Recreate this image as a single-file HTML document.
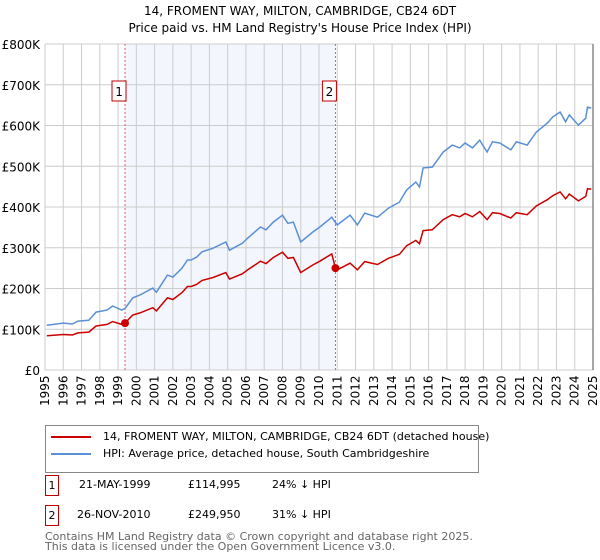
<!DOCTYPE html>
<html><head><meta charset="utf-8"><style>
body{margin:0;background:#fff;font-family:"DejaVu Sans","Liberation Sans",sans-serif;}
#wrap{position:relative;width:600px;height:560px;overflow:hidden}
.t{font-size:12px;fill:#000}
</style></head><body>
<div id="wrap">
<svg id="svg" width="600" height="560" xmlns="http://www.w3.org/2000/svg" style="font-family:'DejaVu Sans','Liberation Sans',sans-serif"></svg>
</div>
<script>
const years=[1995.1,1996.0,1996.5,1996.8,1997.4,1997.8,1998.4,1998.7,1999.2,1999.38,1999.8,2000.2,2000.9,2001.1,2001.7,2002.0,2002.5,2002.8,2003.0,2003.3,2003.6,2004.2,2004.9,2005.1,2005.8,2006.1,2006.8,2007.1,2007.5,2008.0,2008.3,2008.6,2009.0,2009.67,2010.05,2010.7,2010.9,2011.0,2011.7,2012.1,2012.5,2013.2,2013.8,2014.4,2014.8,2015.3,2015.5,2015.7,2016.2,2016.8,2017.3,2017.7,2018.0,2018.4,2018.8,2019.2,2019.5,2019.9,2020.5,2020.8,2021.4,2021.9,2022.5,2022.8,2023.2,2023.5,2023.7,2024.2,2024.6,2024.7,2024.9];
const hpiValues=[110,115,113,120,122,142,147,157,147,151,177,184,201,191,233,228,250,270,270,277,290,299,314,294,311,324,351,344,363,380,360,363,314,339,351,375,362,356,380,356,385,375,397,412,442,461,449,496,498,535,552,545,557,545,564,535,560,557,540,560,552,584,606,621,633,609,626,601,618,645,643];
const priceValues=[84,87,86,91,93,108,112,119,112,115,135,140,153,145,177,173,190,205,205,210,220,227,239,223,236,246,267,261,276,289,274,276,239,258,267,285,250,246,262,246,266,259,274,284,305,318,310,342,344,369,381,376,384,376,389,369,386,384,373,386,381,403,418,428,437,420,432,415,426,445,444];
const saleYears=[1999.38,2010.9];
const salePrices=[115,250];
const saleLabels=["1","2"];
const yTicks=[0,100,200,300,400,500,600,700,800];
const yTickLabels=["£0","£100K","£200K","£300K","£400K","£500K","£600K","£700K","£800K"];
const xTicks=[1995,1996,1997,1998,1999,2000,2001,2002,2003,2004,2005,2006,2007,2008,2009,2010,2011,2012,2013,2014,2015,2016,2017,2018,2019,2020,2021,2022,2023,2024,2025];

const X0=45,X1=593,Y0=370,Y1=44;
const xs=y=>X0+(y-1995)/30*(X1-X0);
const ys=v=>Y0-v/800*(Y0-Y1);
const svg=document.getElementById('svg');
const NS='http://www.w3.org/2000/svg';
function mk(tag,attrs,parent){const e=document.createElementNS(NS,tag);for(const k in attrs)e.setAttribute(k,attrs[k]);(parent||svg).appendChild(e);return e;}

let t=mk('text',{x:300,y:15,'text-anchor':'middle',class:'t'});t.textContent='14, FROMENT WAY, MILTON, CAMBRIDGE, CB24 6DT';


t=mk('text',{x:300,y:32,'text-anchor':'middle',class:'t'});t.textContent="Price paid vs. HM Land Registry's House Price Index (HPI)";



let sh=mk('rect',{x:xs(saleYears[0]),y:Y1,width:xs(saleYears[1])-xs(saleYears[0]),height:Y0-Y1,fill:'#f3f6fd'});



xTicks.forEach(yr=>{const l=mk('line',{x1:xs(yr),x2:xs(yr),y1:Y1,y2:Y0,stroke:'#cccccc','stroke-width':1});


const tx=mk('text',{transform:`translate(${xs(yr)+4},${Y0+36}) rotate(-90)`,class:'t'});tx.textContent=yr;

});
yTicks.forEach((v,i)=>{const l=mk('line',{x1:X0,x2:X1,y1:ys(v),y2:ys(v),stroke:'#cccccc','stroke-width':1});


const tx=mk('text',{x:40,y:ys(v)+5,'text-anchor':'end',class:'t'});tx.textContent=yTickLabels[i];

});
let el=mk('line',{x1:X1,x2:X1,y1:Y1,y2:Y0,stroke:'#888','stroke-width':1.5});



saleYears.forEach((yr,i)=>{const l=mk('line',{x1:xs(yr),x2:xs(yr),y1:Y1,y2:Y0,stroke:'#e06060','stroke-width':1,'stroke-dasharray':'2,2'});


const bx=xs(yr)-9-3;
const r=mk('rect',{x:bx-1,y:81,width:14,height:20,fill:'#fff',stroke:'#c00000','stroke-width':1});


const tx=mk('text',{x:bx+6,y:96,'text-anchor':'middle',class:'t','font-size':'12'});tx.textContent=saleLabels[i];

});

function path(vals,color,name){const d=years.map((y,i)=>(i?'L':'M')+xs(y).toFixed(1)+','+ys(vals[i]).toFixed(1)).join('');
const p=mk('path',{d:d,fill:'none',stroke:color,'stroke-width':1.5});

}
path(hpiValues,'#5b8fd6','hpi-line');
path(priceValues,'#cc0000','price-line');
saleYears.forEach((yr,i)=>{const c=mk('circle',{cx:xs(yr),cy:ys(salePrices[i]),r:4,fill:'#cc0000'});

});
</script>
<div style="position:absolute;left:45px;top:425px;width:434px;height:48px;border:1px solid #888;box-sizing:border-box;font-size:11px">
<div style="position:absolute;left:5px;top:4px;white-space:nowrap"><span style="display:inline-block;width:40px;height:2px;background:#cc0000;vertical-align:middle;margin-right:12px"></span>14, FROMENT WAY, MILTON, CAMBRIDGE, CB24 6DT (detached house)</div>
<div style="position:absolute;left:5px;top:21px;white-space:nowrap"><span style="display:inline-block;width:40px;height:2px;background:#5b8fd6;vertical-align:middle;margin-right:12px"></span>HPI: Average price, detached house, South Cambridgeshire</div>
</div>
<div style="position:absolute;left:0;top:0;font-size:11px">
<div style="position:absolute;left:45px;top:475px;width:12px;height:19px;border:1px solid #c00000;text-align:center;line-height:19px">1</div>
<div style="position:absolute;left:79px;top:478px;white-space:nowrap">21-MAY-1999</div>
<div style="position:absolute;left:188px;top:478px">£114,995</div>
<div style="position:absolute;left:272px;top:478px;white-space:nowrap">24% ↓ HPI</div>
<div style="position:absolute;left:45px;top:505px;width:12px;height:19px;border:1px solid #c00000;text-align:center;line-height:19px">2</div>
<div style="position:absolute;left:77px;top:508px;white-space:nowrap">26-NOV-2010</div>
<div style="position:absolute;left:188px;top:508px">£249,950</div>
<div style="position:absolute;left:272px;top:508px;white-space:nowrap">31% ↓ HPI</div>
</div>
<div style="position:absolute;left:45px;top:532px;font-size:11px;color:#666;line-height:10px">Contains HM Land Registry data © Crown copyright and database right 2025.<br>This data is licensed under the Open Government Licence v3.0.</div>
</body></html>
